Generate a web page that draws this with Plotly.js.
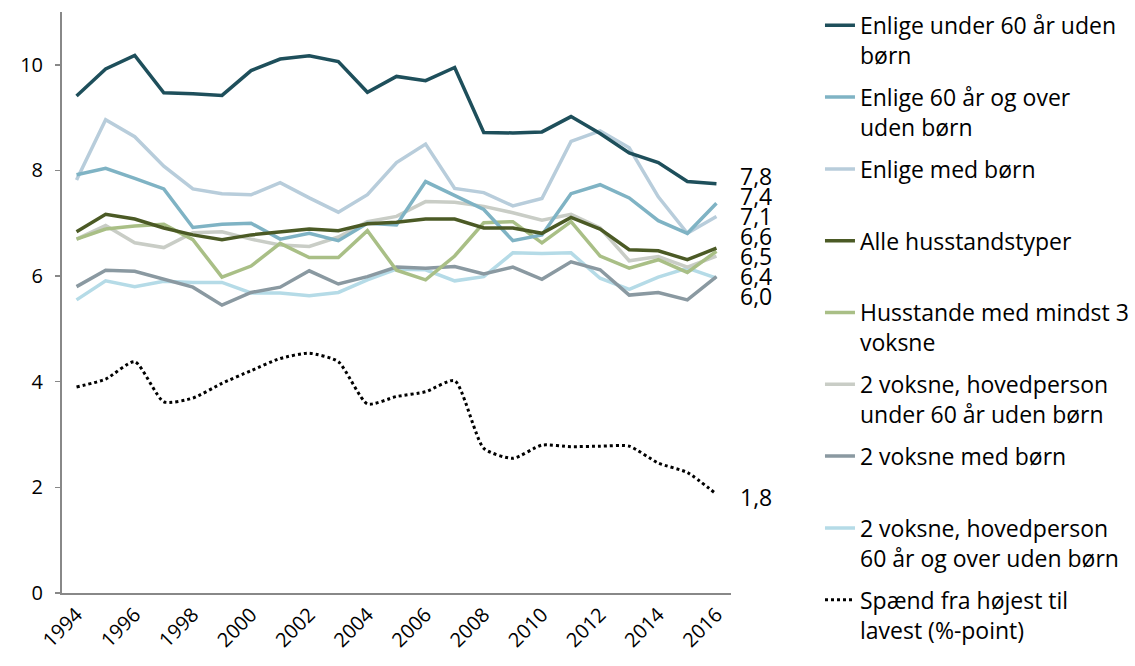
<!DOCTYPE html>
<html>
<head>
<meta charset="utf-8">
<script src="https://cdn.plot.ly/plotly-3.0.1.min.js"></script>
<style>
  html, body { margin: 0; padding: 0; background: #fff; }
  #chart { width: 1135px; height: 666px; }
</style>
</head>
<body>
<div id="chart"></div>
<script>
// ---------- data ----------
const years = [1994, 1995, 1996, 1997, 1998, 1999, 2000, 2001, 2002, 2003, 2004, 2005,
               2006, 2007, 2008, 2009, 2010, 2011, 2012, 2013, 2014, 2015, 2016];
const tickYears = [1994, 1996, 1998, 2000, 2002, 2004, 2006, 2008, 2010, 2012, 2014, 2016];

const enligeUnder60 = [9.41, 9.92, 10.18, 9.47, 9.45, 9.42, 9.89, 10.11, 10.17, 10.06, 9.48, 9.78,
                       9.70, 9.95, 8.72, 8.71, 8.73, 9.02, 8.70, 8.33, 8.15, 7.79, 7.75];
const enlige60Over  = [7.92, 8.04, 7.85, 7.65, 6.92, 6.98, 7.00, 6.70, 6.81, 6.67, 7.00, 6.97,
                       7.79, 7.52, 7.26, 6.67, 6.78, 7.56, 7.73, 7.48, 7.05, 6.81, 7.38];
const enligeMedBorn = [7.82, 8.96, 8.64, 8.08, 7.65, 7.56, 7.54, 7.77, 7.48, 7.21, 7.54, 8.15,
                       8.50, 7.66, 7.58, 7.33, 7.47, 8.55, 8.75, 8.43, 7.50, 6.81, 7.13];
const alleHusstande = [6.84, 7.17, 7.08, 6.91, 6.78, 6.69, 6.78, 6.84, 6.89, 6.86, 6.99, 7.02,
                       7.08, 7.08, 6.91, 6.91, 6.81, 7.11, 6.89, 6.50, 6.48, 6.31, 6.53];
const mindst3Voksne = [6.70, 6.89, 6.95, 6.98, 6.69, 5.98, 6.19, 6.62, 6.35, 6.35, 6.86, 6.11,
                       5.93, 6.38, 7.01, 7.03, 6.63, 7.03, 6.38, 6.15, 6.31, 6.07, 6.47];
const toVoksneUnder60 = [6.70, 6.96, 6.63, 6.54, 6.82, 6.84, 6.70, 6.59, 6.56, 6.74, 7.03, 7.13,
                         7.41, 7.40, 7.32, 7.20, 7.06, 7.17, 6.91, 6.29, 6.37, 6.17, 6.38];
const toVoksneMedBorn = [5.80, 6.11, 6.09, 5.94, 5.79, 5.45, 5.69, 5.79, 6.10, 5.85, 5.99, 6.17,
                         6.15, 6.18, 6.04, 6.17, 5.94, 6.27, 6.12, 5.64, 5.69, 5.55, 5.99];
const toVoksne60Over  = [5.55, 5.91, 5.80, 5.90, 5.88, 5.88, 5.68, 5.68, 5.63, 5.69, 5.93, 6.13,
                         6.12, 5.91, 5.99, 6.44, 6.43, 6.44, 5.96, 5.75, 5.98, 6.15, 5.96];
const spaend = [3.90, 4.05, 4.38, 3.62, 3.69, 3.97, 4.21, 4.44, 4.54, 4.38, 3.58, 3.72,
                3.81, 4.02, 2.74, 2.55, 2.80, 2.77, 2.78, 2.78, 2.46, 2.28, 1.87];

const seriesNames = [
  "Enlige under 60 år uden<br>børn",
  "Enlige 60 år og over<br>uden børn",
  "Enlige med børn<br> ",
  "Alle husstandstyper<br> ",
  "Husstande med mindst 3<br>voksne",
  "2 voksne, hovedperson<br>under 60 år uden børn",
  "2 voksne med børn<br> ",
  "2 voksne, hovedperson<br>60 år og over uden børn",
  "Spænd fra højest til<br>lavest (%-point)"
];
const endLabels = ["7,8", "7,4", "7,1", "6,6", "6,5", "6,4", "6,0"];
const spanLabel = "1,8";

// ---------- styling ----------
const FONT = "Open Sans, Noto Sans, sans-serif";
const colors = ["#1e4f5b", "#7fb3c4", "#b8cddb", "#4b5a25", "#a9bf86",
                "#c9cdc6", "#8a99a1", "#b5dbe7", "#000000"];
const seriesData = [enligeUnder60, enlige60Over, enligeMedBorn, alleHusstande, mindst3Voksne,
                    toVoksneUnder60, toVoksneMedBorn, toVoksne60Over, spaend];

const traces = seriesData.map((vals, i) => {
  const isSpan = i === 8;
  return {
    type: "scatter",
    mode: "lines",
    x: years,
    y: vals,
    name: seriesNames[i],
    legendgroup: "g" + i,
    legendrank: i + 1,
    line: isSpan
      ? { color: colors[i], width: 3, dash: "dot", shape: "spline", smoothing: 0.6 }
      : { color: colors[i], width: 3.5 },
    hoverinfo: "x+y+name"
  };
});
const order = [8, 7, 6, 5, 4, 2, 1, 3, 0];
const drawTraces = order.map(i => traces[i]);

// stacked end labels: one text block, line pitch 20px, glyphs 23px
const stackText = endLabels.map(t => '<span style="font-size:23px">' + t + '</span>').join("<br>");
const annotations = [
  {
    text: stackText, xref: "paper", yref: "paper", x: 1.0105, y: (593 - 236) / 581,
    xanchor: "left", yanchor: "middle", align: "left", showarrow: false,
    font: { family: FONT, size: 15.4, color: "#000" }
  },
  {
    text: spanLabel, xref: "paper", yref: "paper", x: 1.0105, y: (593 - 497) / 581,
    xanchor: "left", yanchor: "middle", showarrow: false,
    font: { family: FONT, size: 23, color: "#000" }
  }
];

const layout = {
  width: 1135, height: 666,
  margin: { l: 62, r: 404, t: 12, b: 73, autoexpand: false },
  paper_bgcolor: "#fff", plot_bgcolor: "#fff",
  font: { family: FONT, size: 20, color: "#000" },
  showlegend: true,
  legend: {
    x: 1.133, y: 1.014, xanchor: "left", yanchor: "top",
    traceorder: "grouped", tracegroupgap: 9, maxheight: 666,
    valign: "top", bgcolor: "rgba(0,0,0,0)",
    font: { family: FONT, size: 23, color: "#000" }
  },
  xaxis: {
    range: [1993.5, 2016.5], automargin: false,
    tickmode: "array", tickvals: tickYears, ticktext: tickYears.map(String),
    tickangle: -45, ticks: "", showgrid: false, zeroline: false,
    showline: true, linecolor: "#888888", linewidth: 2,
    tickfont: { family: FONT, size: 20, color: "#000" }
  },
  yaxis: {
    range: [0, 11], tick0: 0, dtick: 2, automargin: false,
    ticks: "outside", ticklen: 5, tickcolor: "#888888", tickwidth: 1.5,
    ticklabelstandoff: 8,
    showgrid: false, zeroline: false,
    showline: true, linecolor: "#888888", linewidth: 2,
    tickfont: { family: FONT, size: 20, color: "#000" }
  },
  annotations: annotations
};

Plotly.newPlot("chart", drawTraces, layout, { displayModeBar: false, staticPlot: true });
</script>
</body>
</html>
